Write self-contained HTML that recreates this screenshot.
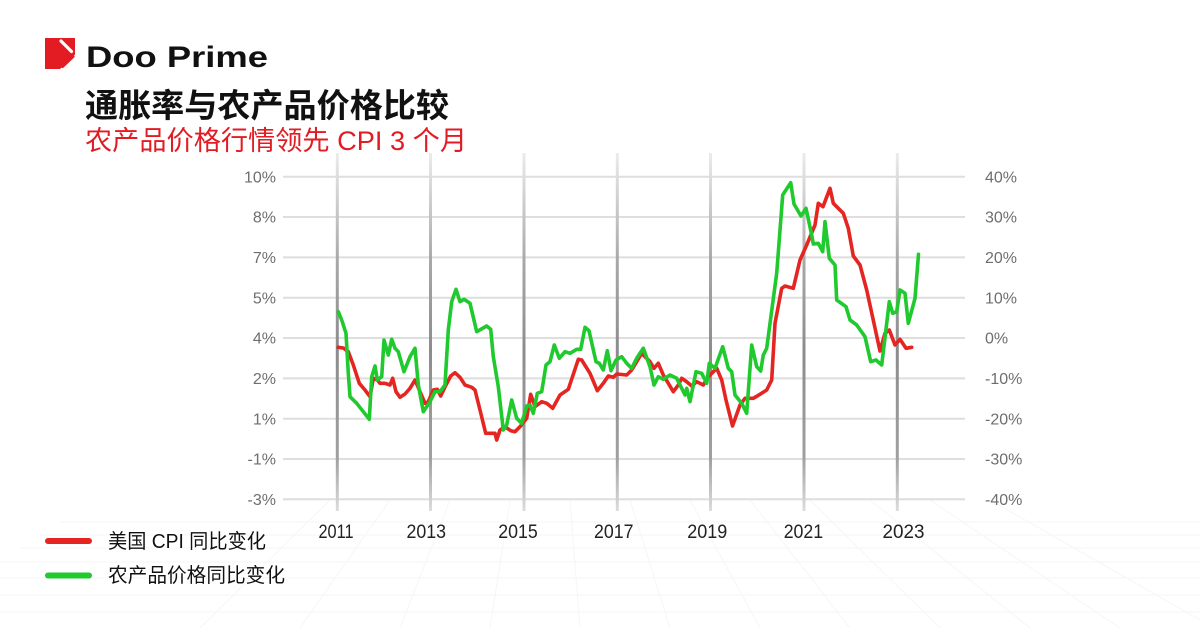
<!DOCTYPE html>
<html>
<head>
<meta charset="utf-8">
<style>
  html,body{margin:0;padding:0;background:#fff;}
  body{width:1200px;height:628px;overflow:hidden;}
  svg{display:block;}
</style>
</head>
<body>
<svg width="1200" height="628" viewBox="0 0 1200 628" xmlns="http://www.w3.org/2000/svg">
  <defs>
    <linearGradient id="vg" gradientUnits="userSpaceOnUse" x1="0" y1="153" x2="0" y2="512">
      <stop offset="0" stop-color="#ececec"/>
      <stop offset="0.3" stop-color="#a8a8a8"/>
      <stop offset="0.55" stop-color="#8c8c8c"/>
      <stop offset="0.85" stop-color="#a0a0a0"/>
      <stop offset="1" stop-color="#dedede"/>
    </linearGradient>
  </defs>
  <rect width="1200" height="628" fill="#fff"/>

  <!-- faint perspective floor grid -->
  <g stroke="#f6f6f6" stroke-width="1" fill="none">
    <line x1="60" y1="522" x2="1200" y2="522"/>
    <line x1="40" y1="535" x2="1200" y2="535"/>
    <line x1="20" y1="548" x2="1200" y2="548"/>
    <line x1="0" y1="562" x2="1200" y2="562"/>
    <line x1="0" y1="578" x2="1200" y2="578"/>
    <line x1="0" y1="595" x2="1200" y2="595"/>
    <line x1="0" y1="612" x2="1200" y2="612"/>
    <line x1="330" y1="500" x2="200" y2="628"/>
    <line x1="390" y1="500" x2="300" y2="628"/>
    <line x1="450" y1="500" x2="400" y2="628"/>
    <line x1="510" y1="500" x2="490" y2="628"/>
    <line x1="570" y1="500" x2="580" y2="628"/>
    <line x1="630" y1="500" x2="670" y2="628"/>
    <line x1="690" y1="500" x2="760" y2="628"/>
    <line x1="750" y1="500" x2="850" y2="628"/>
    <line x1="810" y1="500" x2="940" y2="628"/>
    <line x1="870" y1="500" x2="1030" y2="628"/>
    <line x1="930" y1="500" x2="1120" y2="628"/>
    <line x1="990" y1="500" x2="1200" y2="620"/>
  </g>

  <!-- logo -->
  <rect x="45" y="38" width="30" height="31" fill="#e31b23"/>
  <polygon points="75.5,54 75.5,70 59,70" fill="#fff"/>
  <line x1="61" y1="41" x2="71.5" y2="51.5" stroke="#fff" stroke-width="3.2" stroke-linecap="round"/>
  <line x1="62.5" y1="66.5" x2="73" y2="56.5" stroke="#e31b23" stroke-width="3" stroke-linecap="round"/>
  <text x="86" y="67" font-family="Liberation Sans, sans-serif" font-weight="bold" font-size="30" fill="#111" textLength="182" lengthAdjust="spacingAndGlyphs">Doo Prime</text>

  <!-- titles -->
  <text x="85" y="117" font-family="Liberation Sans, 'Noto Sans CJK SC', sans-serif" font-weight="bold" font-size="33" fill="#111" textLength="364" lengthAdjust="spacingAndGlyphs">通胀率与农产品价格比较</text>
  <text x="85" y="150" font-family="Liberation Sans, 'Noto Sans CJK SC', sans-serif" font-size="27" fill="#e31b23" textLength="382" lengthAdjust="spacingAndGlyphs">农产品价格行情领先 CPI 3 个月</text>

  <!-- horizontal gridlines -->
  <g stroke="#dedede" stroke-width="2">
    <line x1="283" y1="176.7" x2="965" y2="176.7"/>
    <line x1="283" y1="217.0" x2="965" y2="217.0"/>
    <line x1="283" y1="257.4" x2="965" y2="257.4"/>
    <line x1="283" y1="297.7" x2="965" y2="297.7"/>
    <line x1="283" y1="338.0" x2="965" y2="338.0"/>
    <line x1="283" y1="378.4" x2="965" y2="378.4"/>
    <line x1="283" y1="418.7" x2="965" y2="418.7"/>
    <line x1="283" y1="459.0" x2="965" y2="459.0"/>
    <line x1="283" y1="499.3" x2="965" y2="499.3"/>
  </g>

  <!-- vertical year lines -->
  <g stroke="url(#vg)" stroke-width="3">
    <line x1="337.3" y1="153" x2="337.3" y2="511"/>
    <line x1="430.5" y1="153" x2="430.5" y2="511"/>
    <line x1="524" y1="153" x2="524" y2="511"/>
    <line x1="617.3" y1="153" x2="617.3" y2="511"/>
    <line x1="710.5" y1="153" x2="710.5" y2="511"/>
    <line x1="804" y1="153" x2="804" y2="511"/>
    <line x1="897.3" y1="153" x2="897.3" y2="511"/>
  </g>

  <!-- left axis labels -->
  <g font-family="Liberation Sans, sans-serif" font-size="16" fill="#6e6e6e" text-anchor="end">
    <text x="276" y="182.4">10%</text>
    <text x="276" y="222.7">8%</text>
    <text x="276" y="263.1">7%</text>
    <text x="276" y="303.4">5%</text>
    <text x="276" y="343.7">4%</text>
    <text x="276" y="384.1">2%</text>
    <text x="276" y="424.4">1%</text>
    <text x="276" y="464.7">-1%</text>
    <text x="276" y="505.0">-3%</text>
  </g>

  <!-- right axis labels -->
  <g font-family="Liberation Sans, sans-serif" font-size="16" fill="#6e6e6e">
    <text x="985" y="182.4">40%</text>
    <text x="985" y="222.7">30%</text>
    <text x="985" y="263.1">20%</text>
    <text x="985" y="303.4">10%</text>
    <text x="985" y="343.7">0%</text>
    <text x="985" y="384.1">-10%</text>
    <text x="985" y="424.4">-20%</text>
    <text x="985" y="464.7">-30%</text>
    <text x="985" y="505.0">-40%</text>
  </g>

  <!-- x labels -->
  <g font-family="Liberation Sans, sans-serif" font-size="19" fill="#222">
    <text x="318.5" y="538" textLength="35" lengthAdjust="spacingAndGlyphs">2011</text>
    <text x="406.5" y="538" textLength="39.5" lengthAdjust="spacingAndGlyphs">2013</text>
    <text x="498.3" y="538" textLength="39.5" lengthAdjust="spacingAndGlyphs">2015</text>
    <text x="594" y="538" textLength="39.5" lengthAdjust="spacingAndGlyphs">2017</text>
    <text x="687.3" y="538" textLength="40" lengthAdjust="spacingAndGlyphs">2019</text>
    <text x="783.7" y="538" textLength="39.5" lengthAdjust="spacingAndGlyphs">2021</text>
    <text x="882.5" y="538" textLength="42" lengthAdjust="spacingAndGlyphs">2023</text>
  </g>

  <!-- series: CPI (red) -->
  <polyline fill="none" stroke="#e52521" stroke-width="3.6" stroke-linejoin="round" stroke-linecap="round"
    points="338.3,347.3 343.3,348 348.3,351.7 353.3,365 359.3,383.3 365,390 370,396.7 373.3,378.3 377.3,380 380,383.3 385,383.3 390,385 392.7,378.3 396,391.7 400,397.3 405,394 410,388.3 415,380 420,391.7 425,403.3 428.3,401.7 433.3,390 437.3,389.3 440.7,396 446,385 450.7,376 455,372.7 460,377.3 465,385 471.7,387.3 475,390 480,410 485.7,433.3 495,433.3 496.7,440 500,430 505,426.7 510.7,430.7 515,431.7 520,426.7 526.7,418.3 530.7,394.3 535,406.7 541.7,401.7 546.7,403.3 552.7,408.3 560,395 568.3,389.3 578.3,359.3 581.7,360 590,373.3 597.3,390.7 603.3,383.3 608.3,376 613.3,377.3 616.7,374 626.7,375 631.7,370 641.7,353.3 650,361.7 654,368.3 658.3,363.3 663.3,375 668.3,383.3 673.3,391.7 678.3,385 681.7,378.3 686.7,381.7 691.7,386 696.7,381.7 703.3,385 708.3,376.7 716.7,368.3 721.7,380 726,400 732.5,426 740,405 745,398.3 753.3,398.3 760,394.3 766.7,390 771.7,380 775,323.3 781.7,288.3 785,286 793.3,288.3 800,260 806.7,245 815,225 818.3,203.3 823,206.7 830,188.3 833.3,203.3 843.3,213.3 848.3,228.3 853.3,256 860,265 866.7,290 880,351 885,333.3 889.3,330 895,345 900,339.3 906,348.3 911.7,347.3"/>

  <!-- series: agricultural prices (green) -->
  <polyline fill="none" stroke="#1fc92e" stroke-width="3.6" stroke-linejoin="round" stroke-linecap="round"
    points="338.3,311.7 341.7,320 346,333.3 348.3,373.3 350,396.7 356.7,403.3 363.3,411.7 369.3,419.3 371.7,376.7 375,366 377.3,380 381.7,376.7 384,340 388.3,355 391.7,339.3 395,348.3 398.3,351.7 404,371.7 410,356.7 415,348.3 418.3,385 423.3,411.7 430,401.7 435,391.7 440,391.7 445,385 448.3,330 451.7,301.7 456,289.3 460,301.7 464,299.3 470,303.3 476.7,331.7 486.7,326 490.7,329.3 493.3,356.7 498.3,386.7 503.3,430 506.7,425 511.7,400 516.7,418.3 521.7,423.3 526.7,406 530,405 533.3,413.3 537.3,393.3 541.7,391.7 546,365 550,361.7 554.3,345 559.3,358.3 565,351.7 570,353.3 576.7,349.3 580.7,349.3 585,327.3 589,330.7 596,361.7 599.3,363.3 603.3,370 607.3,350.7 611,370.7 616,360 621.7,356.7 626.7,363.3 631.7,368.3 636.7,358.3 643.3,348.3 650,366.7 654,385 658.3,376.7 663.3,379.3 670,375 676.7,378.3 681.7,388.3 685,395 686.7,388.3 690,401.7 696,371.7 701.7,373.3 706.7,383.3 709.3,363.3 715,368.3 722.7,346.7 728.3,368.3 731.7,371.7 735,395 741.7,403.3 746.7,413.3 751.7,345 756.7,366.7 760.7,371 763.3,355 766.7,348.3 776.7,273.3 782.7,195 790.7,182.7 794,204 801,216 806,208.3 811.7,235 813.3,244 818.3,243.3 822.7,251.7 825,221.7 829.3,258.3 835,265 836.7,300 846,306.7 850,320 856.7,325 865,336.7 870.7,361.7 876,360 881.7,365 889.3,301.7 892.7,313.3 896.7,311.7 900,290 905,293.3 908.3,323.3 915,298.3 918.5,254.3"/>

  <!-- legend -->
  <line x1="48" y1="541" x2="89" y2="541" stroke="#e52521" stroke-width="6" stroke-linecap="round"/>
  <line x1="48" y1="575.5" x2="89" y2="575.5" stroke="#1fc92e" stroke-width="6" stroke-linecap="round"/>
  <g font-family="Liberation Sans, 'Noto Sans CJK SC', sans-serif" font-size="20" fill="#111">
    <text x="108" y="548" textLength="158" lengthAdjust="spacingAndGlyphs">美国 CPI 同比变化</text>
    <text x="108" y="582" textLength="177" lengthAdjust="spacingAndGlyphs">农产品价格同比变化</text>
  </g>
</svg>
</body>
</html>
